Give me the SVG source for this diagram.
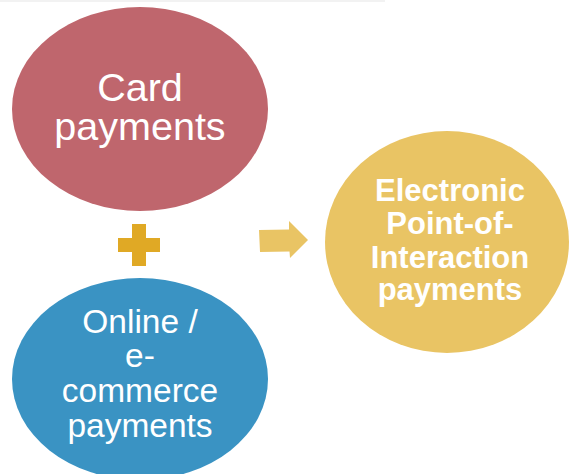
<svg xmlns="http://www.w3.org/2000/svg" width="569" height="474" viewBox="0 0 569 474">
  <style>
    .lbl { font-family: "Liberation Sans", Arial, sans-serif; fill: #ffffff; text-anchor: middle; }
    .big { font-size: 39.5px; }
    .mid { font-size: 33.5px; }
    .bold { font-size: 31px; font-weight: bold; }
  </style>
  <rect width="569" height="474" fill="#ffffff"/>
  <line x1="0" y1="1" x2="385" y2="1" stroke="#f2f2f2" stroke-width="2"/>

  <g id="card">
    <ellipse cx="140" cy="109" rx="128" ry="102" fill="#BF666D"/>
    <text class="lbl big" x="140" y="101">Card</text>
    <text class="lbl big" x="140" y="140">payments</text>
  </g>

  <g id="online">
    <ellipse cx="140" cy="379" rx="128" ry="101" fill="#3A93C3"/>
    <text class="lbl mid" x="140" y="333">Online /</text>
    <text class="lbl mid" x="140" y="367">e-</text>
    <text class="lbl mid" x="140" y="402">commerce</text>
    <text class="lbl mid" x="140" y="437">payments</text>
  </g>

  <g id="epoi">
    <ellipse cx="447" cy="242" rx="122" ry="111" fill="#E9C464"/>
    <text class="lbl bold" x="450" y="201">Electronic</text>
    <text class="lbl bold" x="450" y="234">Point-of-</text>
    <text class="lbl bold" x="450" y="268">Interaction</text>
    <text class="lbl bold" x="450" y="300">payments</text>
  </g>

  <g id="connectors">
    <path d="M118 238 H132 V224 H146 V238 H160 V252 H146 V266 H132 V252 H118 Z" fill="#E0A925"/>
    <path d="M259 230 L289 229.5 L289 221 L308 240 L290 258 L289.5 251.5 L260 252 Z" fill="#E9C464"/>
  </g>
</svg>
